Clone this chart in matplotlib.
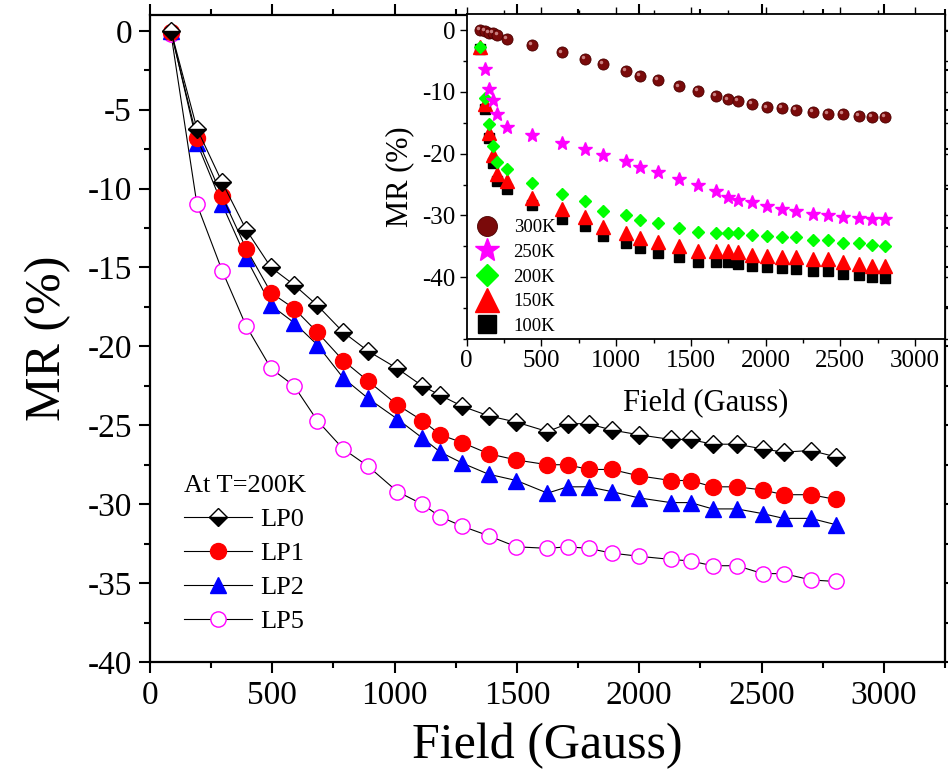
import numpy as np
import matplotlib
matplotlib.use("Agg")
import matplotlib.pyplot as plt
from matplotlib.ticker import MultipleLocator
from matplotlib.transforms import offset_copy

plt.rcParams['font.family'] = ['Liberation Serif', 'DejaVu Serif']
plt.rcParams['axes.unicode_minus'] = False

# ---------------------------------------------------------------
# MR vs field for the LP samples at T = 200 K
field_main = [86, 192, 295, 393, 495, 589, 684, 790, 892, 1011, 1113, 1187, 1277, 1384,
              1498, 1625, 1707, 1793, 1887, 1998, 2129, 2210, 2300, 2399, 2505, 2591, 2702, 2804]
mr_lp0 = [0.0, -6.2, -9.6, -12.6, -15.0, -16.1, -17.4, -19.1, -20.3, -21.4, -22.5, -23.1, -23.8, -24.4,
          -24.8, -25.4, -24.9, -24.9, -25.3, -25.6, -25.9, -25.9, -26.2, -26.2, -26.5, -26.7, -26.6, -27.0]
mr_lp1 = [-0.1, -6.8, -10.5, -13.8, -16.6, -17.6, -19.1, -20.9, -22.2, -23.7, -24.7, -25.6, -26.1, -26.8,
          -27.2, -27.5, -27.5, -27.8, -27.8, -28.2, -28.5, -28.5, -28.9, -28.9, -29.1, -29.4, -29.4, -29.7]
mr_lp2 = [0.0, -7.1, -11.0, -14.4, -17.4, -18.5, -19.9, -22.0, -23.3, -24.6, -25.8, -26.7, -27.4, -28.1,
          -28.5, -29.3, -28.9, -28.9, -29.2, -29.6, -29.9, -29.9, -30.3, -30.3, -30.6, -30.9, -30.9, -31.3]
mr_lp5 = [-0.2, -11.0, -15.2, -18.7, -21.4, -22.5, -24.7, -26.5, -27.6, -29.2, -30.0, -30.8, -31.4, -32.0,
          -32.7, -32.8, -32.7, -32.8, -33.1, -33.3, -33.5, -33.6, -33.9, -33.9, -34.4, -34.4, -34.8, -34.9]

# inset: one sample at several temperatures
field_inset = [89, 122, 151, 178, 205, 268, 435, 635, 791, 910, 1066, 1159, 1280, 1419,
               1546, 1666, 1746, 1813, 1906, 2011, 2109, 2203, 2319, 2415, 2515, 2624, 2711, 2796]
mr_300k = [0.0, -0.1, -0.4, -0.5, -0.8, -1.4, -2.4, -3.6, -4.7, -5.5, -6.6, -7.4, -8.1, -9.1,
           -9.9, -10.7, -11.2, -11.5, -12.0, -12.5, -12.6, -12.9, -13.2, -13.5, -13.6, -13.9, -14.1, -14.1]
mr_250k = [-6.3, -9.6, -11.3, -13.6, -15.7, -16.9, -18.2, -19.3, -20.2, -21.2, -22.2, -23.0, -24.1,
           -25.1, -26.0, -27.0, -27.5, -27.9, -28.5, -28.9, -29.2, -29.7, -29.9, -30.2, -30.4, -30.6, -30.6]
mr_200k = [-2.7, -11.0, -15.2, -18.7, -21.4, -22.5, -24.8, -26.5, -27.6, -29.2, -30.0, -30.7, -31.3, -32.0,
           -32.6, -32.8, -32.8, -32.9, -33.2, -33.3, -33.5, -33.5, -33.9, -33.9, -34.4, -34.4, -34.8, -34.9]
mr_150k = [-2.8, -11.9, -16.6, -20.2, -23.3, -24.4, -27.1, -29.0, -30.2, -31.9, -32.8, -33.7, -34.3, -35.0,
           -35.7, -35.8, -35.8, -35.9, -36.4, -36.5, -36.7, -36.8, -37.1, -37.1, -37.6, -37.8, -38.2, -38.2]
mr_100k = [-3.0, -12.7, -17.4, -21.5, -24.5, -25.7, -28.3, -30.5, -31.7, -33.4, -34.4, -35.3, -36.0, -36.8,
           -37.5, -37.6, -37.6, -37.8, -38.2, -38.3, -38.5, -38.6, -39.0, -39.0, -39.5, -39.6, -40.0, -40.1]

#----------------------------------------------------------------
fig = plt.figure(figsize=(9.48, 7.81), dpi=100)
ax = fig.add_axes([0.1582, 0.1524, 0.8386, 0.8284])

l5, = ax.plot(field_main, mr_lp5, '-', color='black', lw=0.8, marker='o', ms=11,
              mfc='white', mec='#ff00ff', mew=1.0, label='LP5')
l2, = ax.plot(field_main, mr_lp2, '-', color='black', lw=0.8, marker='^', ms=12,
              mfc='#0000ff', mec='#0000ff', label='LP2')
l1, = ax.plot(field_main, mr_lp1, '-', color='black', lw=0.8, marker='o', ms=11.5,
              mfc='#ff0000', mec='#ff0000', label='LP1')
l0, = ax.plot(field_main, mr_lp0, '-', color='black', lw=0.8, marker='D', ms=9.5,
              fillstyle='bottom', mfc='black', mfcalt='white', mec='black', mew=1.0, label='LP0')

ax.set_xlim(0, 3250)
ax.set_ylim(-40, 1)
ax.xaxis.set_major_locator(MultipleLocator(500))
ax.xaxis.set_minor_locator(MultipleLocator(250))
ax.yaxis.set_major_locator(MultipleLocator(5))
ax.yaxis.set_minor_locator(MultipleLocator(2.5))
ax.tick_params(which='both', direction='out', top=True, right=True, width=1.5,
               labelsize=24, pad=5)
ax.tick_params(which='major', length=8)
ax.tick_params(which='minor', length=4.5)
for s in ax.spines.values():
    s.set_linewidth(1.6)
ax.set_xlabel('Field (Gauss)', fontsize=36, labelpad=9)
ax.set_ylabel('MR (%)', fontsize=36, labelpad=12)

leg = ax.legend(handles=[l0, l1, l2, l5], title='At T=200K', loc='lower left',
                bbox_to_anchor=(0.029, 0.028), frameon=False, fontsize=19, title_fontsize=19,
                handlelength=2.6, handletextpad=0.3, labelspacing=0.4, alignment='left',
                borderaxespad=0)

#----------------------------------------------------------------
# inset
ins = fig.add_axes([0.4923, 0.5659, 0.5045, 0.4161])
ins.set_facecolor('white')

h100, = ins.plot(field_inset, mr_100k, 's', color='black', ms=7, label='100K')
h150, = ins.plot(field_inset, mr_150k, '^', color='#ff0000', ms=9.5, label='150K')
h200, = ins.plot(field_inset, mr_200k, 'D', color='#00ff00', ms=6.5, label='200K')
h250, = ins.plot(field_inset[1:], mr_250k, '*', color='#ff00ff', ms=10, label='250K')
h300, = ins.plot(field_inset, mr_300k, 'o', mfc='#7a0a0a', mec='#4a0000', mew=0.6,
                 ms=8, label='300K')
# small highlight on the balls
hl = offset_copy(ins.transData, fig=fig, x=-1.3, y=1.3, units='points')
ins.plot(field_inset, mr_300k, 'o', color='#c98080', ms=2.5, mew=0, transform=hl)

ins.set_xlim(0, 3200)
ins.set_ylim(-50, 2.6)
ins.xaxis.set_major_locator(MultipleLocator(500))
ins.xaxis.set_minor_locator(MultipleLocator(250))
ins.set_yticks([0, -10, -20, -30, -40])
ins.yaxis.set_minor_locator(MultipleLocator(5))
ins.tick_params(which='both', direction='out', top=True, right=True, width=1.0,
                labelsize=18, pad=3)
ins.tick_params(which='major', length=5)
ins.tick_params(which='minor', length=3)
for s in ins.spines.values():
    s.set_linewidth(1.3)
ins.set_xlabel('Field (Gauss)', fontsize=22, labelpad=12)
ins.set_ylabel('MR (%)', fontsize=22, labelpad=6)

ins.legend(handles=[h300, h250, h200, h150, h100], loc='lower left',
           bbox_to_anchor=(0.0, -0.016), frameon=False,
           fontsize=13.5, markerscale=1.8, handlelength=1.2, handletextpad=0.8,
           labelspacing=0.4, borderaxespad=0.1)

fig.savefig('out.png', dpi=100)
